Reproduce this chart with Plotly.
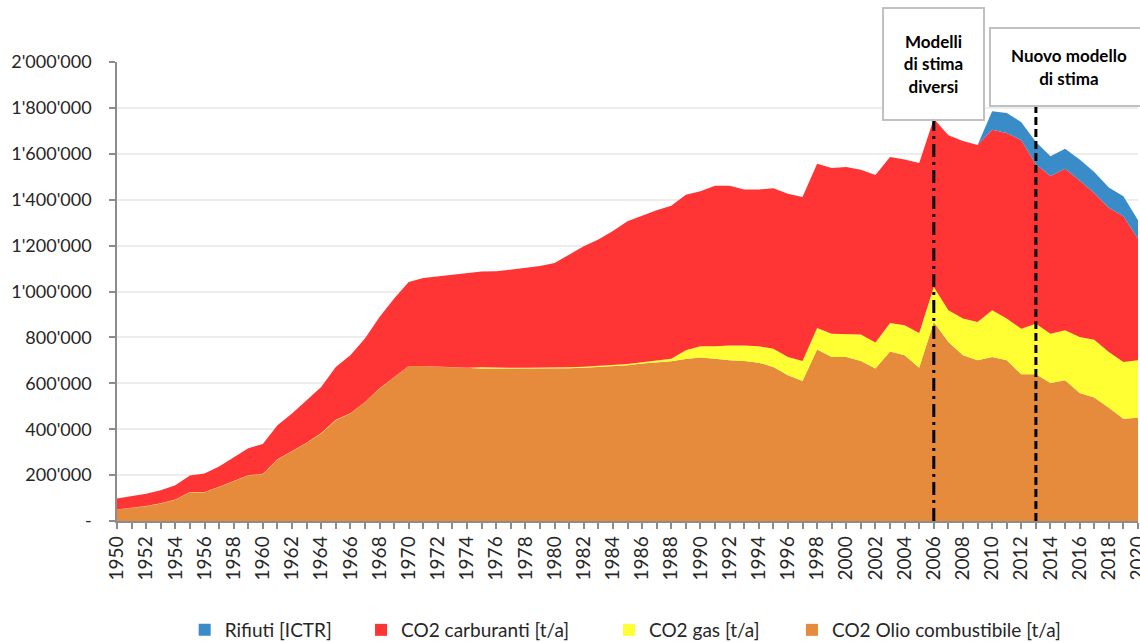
"""
Emissioni di CO2 1950-2020: aree sovrapposte per vettore
"""

import plotly.graph_objects as go

# Anni
years = list(range(1950, 2021))

# CO2 olio combustibile [t/a]
oil = [
    50000, 57000, 64000, 76000, 93000, 125000, 125000, 148000, 173000, 198000,
    205000, 268000, 304000, 340000, 381000, 439000, 468000, 518000, 577000, 627000,
    675000, 675000, 672000, 668000, 667000, 665000, 664000, 664000, 664000, 664000,
    664000, 666000, 668000, 671000, 674000, 679000, 686000, 691000, 696000, 706000,
    712000, 707000, 700000, 697000, 690000, 671000, 635000, 610000, 747000, 715000,
    715000, 697000, 664000, 739000, 722000, 668000, 867000, 780000, 722000, 700000,
    715000, 700000, 639000, 639000, 601000, 613000, 558000, 538000, 494000, 446000,
    450000,
]

# CO2 gas [t/a]
gas = [
    0, 0, 1000, 1000, 1000, 1000, 1000, 1000, 1000, 1000,
    1000, 1000, 1000, 1000, 2000, 2000, 2000, 1000, 1000, 1000,
    0, 0, 0, 1000, 1000, 5000, 4000, 4000, 4000, 4000,
    4000, 4000, 4000, 4000, 5000, 5000, 6000, 7000, 11000, 38000,
    49000, 54000, 65000, 68000, 71000, 80000, 80000, 87000, 94000, 101000,
    101000, 116000, 114000, 124000, 131000, 151000, 153000, 138000, 160000, 167000,
    203000, 182000, 199000, 221000, 215000, 218000, 244000, 252000, 242000, 247000,
    250000,
]

# CO2 carburanti [t/a]
fuel = [
    48000, 52000, 54000, 57000, 62000, 72000, 81000, 89000, 105000, 118000,
    130000, 148000, 163000, 185000, 201000, 230000, 252000, 276000, 311000, 341000,
    366000, 384000, 394000, 405000, 410000, 417000, 420000, 427000, 436000, 443000,
    456000, 492000, 525000, 552000, 585000, 622000, 639000, 656000, 667000, 678000,
    676000, 700000, 696000, 679000, 683000, 699000, 711000, 715000, 716000, 722000,
    726000, 718000, 730000, 723000, 722000, 741000, 733000, 763000, 774000, 771000,
    787000, 809000, 821000, 694000, 687000, 704000, 682000, 639000, 629000, 635000,
    530000,
]

# Rifiuti [ICTR]
waste = [0] * 60 + [
    80000, 87000, 79000, 97000, 86000, 87000, 91000, 92000, 88000, 87000, 80000,
]

y_ticks = [0, 200000, 400000, 600000, 800000, 1000000,
           1200000, 1400000, 1600000, 1800000, 2000000]
y_labels = ["-", "200'000", "400'000", "600'000", "800'000", "1'000'000",
            "1'200'000", "1'400'000", "1'600'000", "1'800'000", "2'000'000"]

FONT = "Lato"
colors = {
    'waste': '#3a8cc9',
    'fuel': '#ff3434',
    'gas': '#ffff33',
    'oil': '#e68a3b',
}

fig = go.Figure()

# Aree sovrapposte (dal basso verso l'alto)
series = [
    ("CO2 Olio combustibile [t/a]", oil, colors['oil']),
    ("CO2 gas [t/a]", gas, colors['gas']),
    ("CO2 carburanti [t/a]", fuel, colors['fuel']),
    ("Rifiuti [ICTR]", waste, colors['waste']),
]
for name, vals, col in series:
    fig.add_trace(go.Scatter(
        x=years, y=vals,
        mode='lines',
        stackgroup='co2',
        line=dict(width=0, color=col),
        fillcolor=col,
        name=name,
        showlegend=False,
        hovertemplate=name + '<br>%{x}: %{y:,.0f}<extra></extra>',
    ))

# Voci della legenda: una legenda per voce, per poterle distanziare
legend_x = [0.1620, 0.3167, 0.5342, 0.6947]
legend_ids = ['legend', 'legend2', 'legend3', 'legend4']
for (name, vals, col), lid in zip(reversed(series), legend_ids):
    fig.add_trace(go.Scatter(
        x=[None], y=[None],
        mode='markers',
        marker=dict(symbol='square', size=12, color=col),
        name=name,
        legend=lid,
    ))

# Linee verticali dei cambi di modello
fig.add_shape(type='line', xref='x', yref='paper', x0=2006, x1=2006, y0=0, y1=0.9,
              line=dict(color='black', width=3, dash='13px,5px,3px,5px'))
fig.add_shape(type='line', xref='x', yref='paper', x0=2013, x1=2013, y0=0, y1=0.93,
              line=dict(color='black', width=3, dash='8px,4px'))

# Riquadri di testo
fig.add_annotation(
    x=2006, xref='x', y=0.9967, yref='paper',
    text="<b>Modelli<br>di stima<br>diversi</b>",
    showarrow=False, width=99, height=110,
    bgcolor='white', bordercolor='#c0c0c0', borderwidth=2, borderpad=0,
    font=dict(family=FONT, size=17, color='black'),
    xanchor='center', yanchor='middle', align='center', valign='middle',
)
fig.add_annotation(
    x=2015.3, xref='x', y=0.990, yref='paper',
    text="<b>Nuovo modello<br>di stima</b>",
    showarrow=False, width=156, height=76,
    bgcolor='white', bordercolor='#c0c0c0', borderwidth=2, borderpad=0,
    font=dict(family=FONT, size=17, color='black'),
    xanchor='center', yanchor='middle', align='center', valign='middle',
)

legend_style = dict(
    orientation='h',
    xref='container', yref='container',
    xanchor='left',
    y=0.0187, yanchor='middle',
    font=dict(family=FONT, size=19, color='#262626'),
    itemclick=False,
    bgcolor='rgba(0,0,0,0)',
)

fig.update_layout(
    width=1140,
    height=642,
    margin=dict(l=117, r=2, t=62, b=121, autoexpand=False),
    plot_bgcolor='white',
    paper_bgcolor='white',
    font=dict(family=FONT, size=19, color='#262626'),
    xaxis=dict(
        range=[1950, 2020],
        tickmode='array',
        tickvals=years,
        ticktext=[str(y) if y % 2 == 0 else '' for y in years],
        tickangle=-90,
        ticks='outside',
        ticklen=6,
        tickwidth=1.5,
        tickcolor='#8c8c8c',
        showline=True,
        linecolor='#8c8c8c',
        linewidth=1.5,
        showgrid=False,
        zeroline=False,
        automargin=False,
        ticklabeloverflow='allow',
        tickfont=dict(family=FONT, size=19, color='#262626'),
    ),
    yaxis=dict(
        range=[0, 2000000],
        tickmode='array',
        tickvals=y_ticks,
        ticktext=y_labels,
        ticks='outside',
        ticklen=6,
        tickwidth=1.5,
        tickcolor='#8c8c8c',
        showline=True,
        linecolor='#8c8c8c',
        linewidth=1.5,
        showgrid=True,
        gridcolor='#ededed',
        gridwidth=1.5,
        zeroline=False,
        automargin=False,
        ticklabelstandoff=14,
        tickfont=dict(family=FONT, size=18, color='#262626'),
    ),
    legend=dict(x=legend_x[0], **legend_style),
    legend2=dict(x=legend_x[1], **legend_style),
    legend3=dict(x=legend_x[2], **legend_style),
    legend4=dict(x=legend_x[3], **legend_style),
    hovermode='closest',
)

# niente margine di pagina attorno al grafico, niente barra strumenti
fig.write_html("out.html",
               config={'displayModeBar': False},
               post_script="document.body.style.margin = '0';")
